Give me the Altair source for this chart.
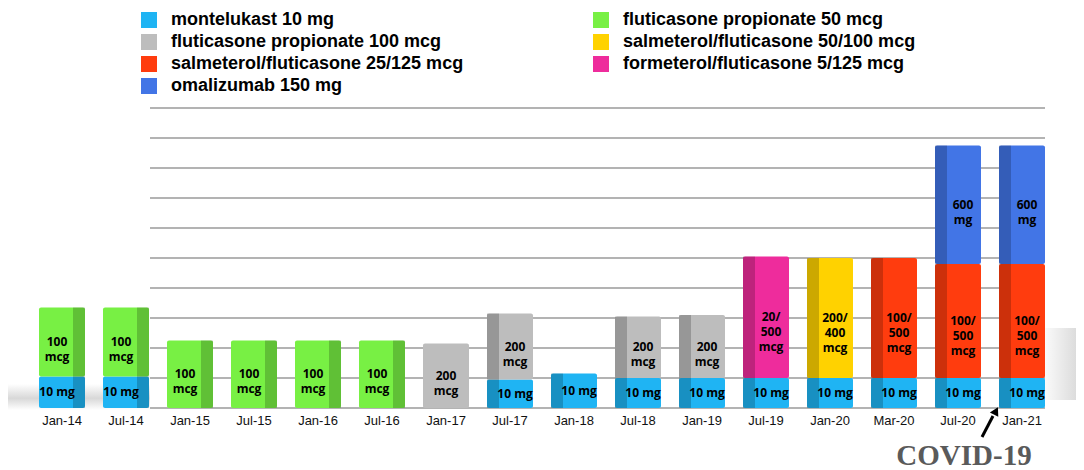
import altair as alt
import pandas as pd

# ---------------- data ----------------
dates = ["Jan-14", "Jul-14", "Jan-15", "Jul-15", "Jan-16", "Jul-16", "Jan-17", "Jul-17",
         "Jan-18", "Jul-18", "Jan-19", "Jul-19", "Jan-20", "Mar-20", "Jul-20", "Jan-21"]

# legend order (filled column by column)
drugs = ["montelukast 10 mg", "fluticasone propionate 100 mcg",
         "salmeterol/fluticasone 25/125 mcg", "omalizumab 150 mg",
         "fluticasone propionate 50 mcg", "salmeterol/fluticasone 50/100 mcg",
         "formeterol/fluticasone 5/125 mcg"]
colors = ["#1fb4f3", "#bdbdbd", "#ff3c0e", "#4275e6", "#78f044", "#ffd200", "#ee2c9c"]
layer_rank = [0, 1, 1, 2, 1, 1, 1]

N = None
montelukast = [1.05, 1.05, N, N, N, N, N, 0.95, 1.15, 1.0, 1.0, 1.0, 1.0, 1.0, 1.0, 1.0]
flut100 = [N, N, N, N, N, N, 2.15, 2.2, N, 2.05, 2.1, N, N, N, N, N]
salm25 = [N, N, N, N, N, N, N, N, N, N, N, N, N, 4.0, 3.8, 3.8]
omal = [N, N, N, N, N, N, N, N, N, N, N, N, N, N, 3.95, 3.95]
flut50 = [2.3, 2.3, 2.25, 2.25, 2.25, 2.25, N, N, N, N, N, N, N, N, N, N]
salm50 = [N, N, N, N, N, N, N, N, N, N, N, N, 4.0, N, N, N]
form = [N, N, N, N, N, N, N, N, N, N, N, 4.05, N, N, N, N]

lab_mont = "10 mg"
lab_flut100 = "200\nmcg"
lab_salm25 = "100/\n500\nmcg"
lab_omal = "600\nmg"
lab_flut50 = "100\nmcg"
lab_salm50 = "200/\n400\nmcg"
lab_form = "20/\n500\nmcg"

series = [montelukast, flut100, salm25, omal, flut50, salm50, form]
labels = [lab_mont, lab_flut100, lab_salm25, lab_omal, lab_flut50, lab_salm50, lab_form]

grid_vals = list(range(0, 11))

rows = []
for d_i, d in enumerate(dates):
    for s_i, (vals, lab) in enumerate(zip(series, labels)):
        v = vals[d_i]
        if v is not None:
            rows.append({"date": d, "idx": d_i, "drug": drugs[s_i], "value": v,
                         "layer": layer_rank[s_i], "label": lab})
df = pd.DataFrame(rows)

# ---------------- chart ----------------
yscale = alt.Scale(domain=[0, 10], nice=False, zero=True)
xenc = alt.X("date:N", sort=dates,
             scale=alt.Scale(paddingInner=0, paddingOuter=0),
             axis=alt.Axis(title=None, labelAngle=0, ticks=False, domain=False,
                           labelPadding=6, labelFontSize=13, labelFont="Liberation Sans",
                           labelColor="#111111", grid=False))

base = alt.Chart(df).transform_stack(
    stack="value", groupby=["date"], sort=[alt.SortField("layer", order="ascending")],
    as_=["y0", "y1"]
).transform_calculate(mid="(datum.y0 + datum.y1) / 2")

bars = base.mark_bar(width=46, cornerRadius=2).encode(
    x=xenc,
    y=alt.Y("y0:Q", scale=yscale, axis=None),
    y2="y1:Q",
    color=alt.Color("drug:N",
                    scale=alt.Scale(domain=drugs, range=colors),
                    legend=alt.Legend(title=None, orient="none", legendX=110, legendY=-97,
                                      columns=2, columnPadding=128, rowPadding=4,
                                      symbolType="square", symbolSize=256,
                                      symbolStrokeWidth=0, labelFontSize=18,
                                      labelFont="Liberation Sans", labelFontWeight="bold",
                                      labelColor="#000000", labelOffset=13, labelLimit=420)),
)

shade_r = base.transform_filter("datum.idx <= 5").mark_bar(
    width=12, color="#000000", opacity=0.2, xOffset=17).encode(
    x=xenc, y=alt.Y("y0:Q", scale=yscale, axis=None), y2="y1:Q")
shade_l = base.transform_filter("datum.idx >= 7").mark_bar(
    width=12, color="#000000", opacity=0.2, xOffset=-17).encode(
    x=xenc, y=alt.Y("y0:Q", scale=yscale, axis=None), y2="y1:Q")

def seg_text(flt, dx):
    return base.transform_filter(flt).mark_text(
        font="Open Sans", fontWeight="bold", fontSize=12, lineBreak="\n",
        lineHeight=15, color="#000000", dx=dx, baseline="middle").encode(
        x=xenc, y=alt.Y("mid:Q", scale=yscale, axis=None), text="label:N")

txt_l = seg_text("datum.idx <= 5", -5)
txt_m = seg_text("datum.idx == 6", 0)
txt_r = seg_text("datum.idx >= 7", 5)

grid = alt.Chart(pd.DataFrame({"g": grid_vals})).mark_rule(
    color="#b3b3b3", strokeWidth=2).encode(
    y=alt.Y("g:Q", scale=yscale, axis=None), x=alt.value(120), x2=alt.value(1015))

one = pd.DataFrame({"a": [0]})
shadow_l = alt.Chart(one).mark_rect(
    color=alt.Gradient(gradient="linear",
                       stops=[alt.GradientStop(color="#ffffff", offset=0),
                              alt.GradientStop(color="#d8d8d8", offset=0.55),
                              alt.GradientStop(color="#ffffff", offset=1)],
                       x1=0, x2=0, y1=0, y2=1)).encode(
    x=alt.value(-22), x2=alt.value(120), y=alt.value(276), y2=alt.value(302))
shadow_r = alt.Chart(one).mark_rect(
    color=alt.Gradient(gradient="linear",
                       stops=[alt.GradientStop(color="#ffffff", offset=0),
                              alt.GradientStop(color="#dcdcdc", offset=1)],
                       x1=0, x2=1, y1=0, y2=0)).encode(
    x=alt.value(1010), x2=alt.value(1046), y=alt.value(220), y2=alt.value(292))

covid = alt.Chart(one).mark_text(
    text="COVID-19", font="Liberation Serif", fontWeight="bold", fontSize=29,
    color="#5a5a5a", align="center", baseline="alphabetic").encode(
    x=alt.value(934), y=alt.value(357))
arrow_line = alt.Chart(one).mark_rule(color="#000000", strokeWidth=3).encode(
    x=alt.value(952), y=alt.value(329), x2=alt.value(963), y2=alt.value(308))
arrow_head = alt.Chart(one).mark_point(
    shape="triangle-up", angle=28, size=90, filled=True, color="#000000", opacity=1).encode(
    x=alt.value(966), y=alt.value(303))

chart = alt.layer(shadow_l, shadow_r, grid, bars, shade_r, shade_l, txt_l, txt_m, txt_r,
                  covid, arrow_line, arrow_head).properties(
    width=1024, height=300,
    padding={"left": 0, "top": 3, "right": 0, "bottom": 0},
    background="white",
).configure_view(strokeWidth=0)

chart.save("out.html", embed_options={"renderer": "svg", "actions": False})
